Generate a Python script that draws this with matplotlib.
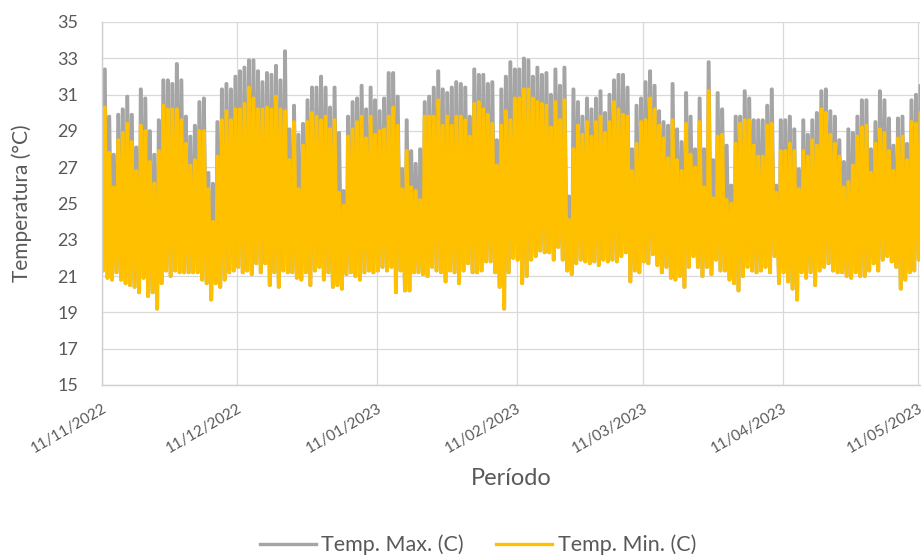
import numpy as np
import pandas as pd
import matplotlib
matplotlib.use("Agg")
import matplotlib.pyplot as plt
import matplotlib.dates as mdates

plt.rcParams['font.family'] = ['Lato', 'DejaVu Sans']

# daily readings, 11/11/2022 -> 11/05/2023 (182 days)
start_date = "2022-11-11"

# daily peak of Temp. Max. (C)
max_peak = [
    32.4, 29.8, 27.7, 29.9, 30.2, 30.9, 29.9, 28.1, 31.3, 30.8, 29.0, 27.7, 29.6, 31.8, 31.8, 31.6,
    32.7, 31.8, 29.8, 28.7, 29.3, 30.6, 30.8, 26.7, 26.1, 29.5, 31.3, 31.6, 31.3, 32.0, 32.3,
    32.5, 32.9, 32.9, 32.3, 31.7, 32.2, 32.1, 32.6, 31.8, 33.4, 29.1, 30.4, 28.8, 29.4, 30.7, 31.4,
    31.4, 32.0, 31.4, 30.3, 31.4, 28.9, 25.7, 29.8, 30.6, 30.8, 31.5, 30.2, 31.4, 30.7, 30.1,
    30.8, 32.2, 32.2, 30.9, 26.9, 29.6, 27.9, 27.2, 28.0, 30.6, 30.9, 31.4, 32.3, 31.3, 31.1,
    31.4, 31.7, 31.6, 31.4, 29.8, 32.4, 32.1, 32.1, 31.6, 31.7, 28.5, 31.3, 32.0, 32.8, 32.4,
    32.4, 33.0, 32.9, 32.0, 32.5, 32.1, 32.2, 31.0, 32.4, 31.5, 32.5, 25.4, 31.3, 30.6, 29.8,
    30.8, 30.2, 30.8, 31.2, 30.0, 31.0, 31.8, 32.1, 32.1, 31.4, 28.0, 30.4, 30.8, 31.7,
    32.3, 31.5, 30.1, 29.5, 29.3, 31.6, 29.1, 28.4, 31.1, 29.8, 28.0, 30.8, 28.0, 32.8, 27.4,
    31.1, 30.2, 28.2, 26.0, 29.8, 29.8, 31.2, 30.8, 29.6, 29.6, 29.6, 30.4, 31.3, 26.0, 29.6,
    29.6, 29.8, 29.1, 26.9, 29.6, 28.8, 29.6, 30.0, 31.2, 31.3, 30.1, 29.8, 28.5, 27.3, 29.1,
    28.9, 29.8, 30.7, 30.7, 28.0, 29.5, 31.2, 30.7, 29.7, 28.2, 29.7, 29.8, 28.3, 30.7, 31.0, 31.5,
]

# daily peak of Temp. Min. (C)
min_peak = [
    30.3, 27.8, 25.9, 28.5, 28.9, 29.4, 28.4, 26.8, 29.3, 29.0, 27.3, 26.1, 27.9, 30.4, 30.2, 30.2,
    30.2, 29.6, 28.3, 27.1, 27.4, 29.0, 29.0, 25.8, 24.0, 27.6, 29.6, 30.1, 29.6, 30.2, 30.2,
    30.5, 31.4, 30.8, 30.2, 30.2, 30.3, 30.2, 30.9, 30.2, 30.1, 27.4, 29.5, 25.8, 28.2, 29.5, 30.0,
    29.8, 29.6, 29.8, 29.1, 29.6, 25.6, 24.9, 28.7, 29.1, 29.5, 29.8, 28.6, 29.8, 28.8, 29.0,
    29.1, 29.8, 30.3, 29.3, 25.8, 27.9, 25.9, 25.7, 25.2, 29.8, 29.8, 29.8, 30.7, 29.3, 29.8,
    29.3, 29.8, 29.8, 29.6, 28.7, 30.5, 30.6, 30.2, 29.9, 29.4, 27.1, 29.3, 30.1, 29.6, 30.8,
    30.8, 31.3, 31.3, 30.8, 30.6, 30.5, 30.4, 29.2, 30.6, 29.6, 30.7, 24.1, 28.0, 29.3, 28.8,
    29.5, 28.7, 29.5, 29.8, 28.9, 29.5, 30.6, 30.2, 29.9, 29.8, 26.8, 28.3, 29.5, 29.6,
    30.8, 30.2, 29.3, 28.6, 27.5, 29.6, 27.4, 26.8, 29.4, 27.7, 27.0, 29.5, 25.9, 31.2, 25.3,
    28.7, 28.8, 25.2, 25.0, 28.3, 29.4, 29.6, 29.6, 28.2, 27.6, 27.6, 29.3, 29.4, 25.6, 27.9,
    27.9, 28.3, 27.9, 25.8, 27.9, 27.6, 28.5, 28.2, 30.2, 30.0, 28.8, 28.3, 27.6, 25.9, 26.2,
    27.1, 28.7, 29.2, 29.3, 26.7, 28.3, 29.1, 28.9, 27.9, 26.8, 28.6, 28.7, 27.4, 29.5, 29.4, 30.0,
]

# daily low (the bottom of the band; both series bottom out together)
day_low = [
    21.3, 20.9, 20.8, 21.2, 20.8, 20.6, 20.5, 20.4, 20.1, 20.9, 19.9, 20.1, 19.2, 20.6, 21.3, 21.0,
    21.3, 21.2, 21.2, 21.2, 21.2, 21.2, 20.8, 20.6, 19.7, 20.6, 20.4, 20.8, 21.2, 21.3, 21.5,
    21.2, 21.3, 21.1, 21.7, 21.2, 21.7, 20.5, 21.2, 20.4, 21.3, 21.2, 21.2, 20.9, 20.8, 21.2, 20.5,
    21.3, 21.5, 20.8, 21.2, 20.4, 20.5, 20.3, 21.1, 21.2, 21.0, 20.8, 21.2, 21.3, 21.2, 21.3,
    21.5, 21.3, 21.5, 20.1, 21.3, 20.2, 20.2, 21.2, 21.2, 21.1, 21.0, 21.5, 21.3, 21.2, 20.7,
    21.3, 21.2, 20.6, 21.3, 21.7, 21.2, 21.2, 21.3, 21.8, 21.8, 21.2, 20.4, 19.2, 21.2, 22.0,
    21.9, 20.6, 21.0, 21.9, 22.1, 22.4, 22.3, 22.3, 21.9, 22.6, 21.9, 21.3, 21.1, 21.7, 21.9,
    21.8, 21.7, 21.8, 21.6, 21.9, 21.8, 21.9, 21.8, 22.1, 22.3, 20.7, 21.3, 21.2, 21.8,
    21.7, 22.2, 21.6, 21.2, 21.5, 20.9, 20.8, 21.0, 20.4, 21.5, 22.1, 21.5, 21.0, 21.5, 21.1,
    21.9, 21.3, 21.3, 20.8, 20.6, 20.2, 21.0, 21.5, 21.3, 21.2, 21.3, 21.5, 21.2, 22.1, 20.6,
    21.2, 20.7, 20.3, 19.7, 21.2, 20.9, 21.2, 20.5, 21.3, 21.5, 21.7, 21.3, 21.2, 21.2, 21.0,
    20.9, 21.2, 21.0, 21.0, 21.3, 21.7, 21.3, 21.9, 22.1, 21.8, 21.5, 20.3, 20.8, 21.2, 21.3, 21.9,
]

days = pd.date_range(start_date, periods=len(day_low), freq="D")

# each day: low through the early morning, high through the afternoon
hours = [4, 7, 13, 16]
t = np.concatenate([(days + pd.Timedelta(hours=h)).values[:, None] for h in hours], axis=1).ravel()


def day_shape(low, high):
    low = np.asarray(low)
    high = np.asarray(high)
    return np.column_stack([low, low, high, high]).ravel()


y_max = day_shape(day_low, max_peak)
y_min = day_shape(day_low, min_peak)

fig = plt.figure(figsize=(9.23, 5.58), dpi=100)
ax = fig.add_axes([102 / 923, 1 - 385 / 558, 818 / 923, 363 / 558])

ax.plot(t, y_max, color="#A5A5A5", lw=2.4, label="Temp. Max. (C)")
ax.plot(t, y_min, color="#FFC000", lw=2.4, label="Temp. Min. (C)")

ax.set_ylim(15, 35)
ax.set_yticks(np.arange(15, 36, 2))
ax.set_xlim(pd.Timestamp("2022-11-11"), pd.Timestamp("2023-05-11 12:00"))
ax.set_xticks(pd.date_range("2022-11-01", "2023-05-01", freq="MS") + pd.Timedelta(days=10))
ax.xaxis.set_major_formatter(mdates.DateFormatter("%d/%m/%Y"))

ax.grid(True, color="#D9D9D9", lw=0.9)
ax.set_axisbelow(True)
for s in ["top", "right"]:
    ax.spines[s].set_visible(False)
for s in ["left", "bottom"]:
    ax.spines[s].set_color("#D0D0D0")
    ax.spines[s].set_linewidth(1.0)

ax.tick_params(axis="y", length=0, pad=17, labelsize=13, labelcolor="#595959")
ax.tick_params(axis="x", length=0, pad=12, labelsize=11, labelcolor="#595959")
for lab in ax.get_xticklabels():
    lab.set_rotation(30)
    lab.set_ha("right")
    lab.set_va("top")
    lab.set_rotation_mode("anchor")

ax.set_ylabel("Temperatura (°C)", fontsize=15, color="#595959", va="center")
ax.yaxis.set_label_coords(-0.098, 0.5)
ax.set_xlabel("Período", fontsize=17, color="#595959", va="center")
ax.xaxis.set_label_coords(0.5, -0.258)

fig.legend(loc="center", bbox_to_anchor=(478 / 923, 1 - 545 / 558), ncol=2, frameon=False,
           fontsize=15.5, labelcolor="#595959", handlelength=2.6, handletextpad=0.25,
           columnspacing=1.5)

fig.savefig("out.png", dpi=100)
